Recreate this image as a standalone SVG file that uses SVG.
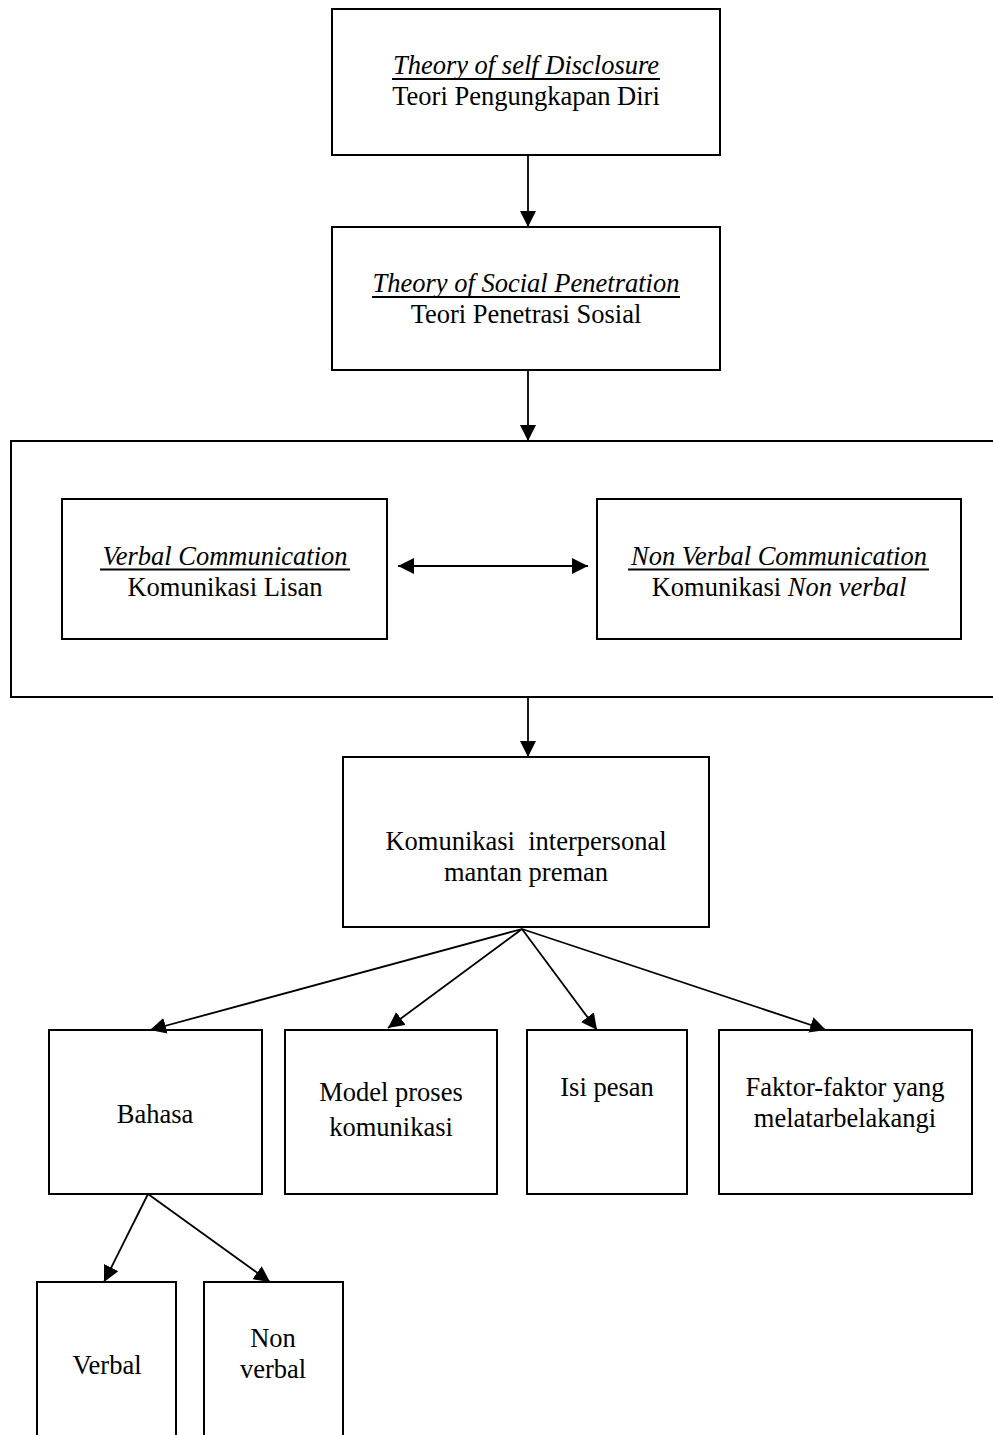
<svg xmlns="http://www.w3.org/2000/svg" width="993" height="1435" viewBox="0 0 993 1435">
<style>
.box{fill:none;stroke:#000;stroke-width:2}
.t{font-family:"Liberation Serif","Times New Roman",serif;font-size:26.5px;fill:#000;text-anchor:middle}
.i{font-style:italic}
.ul{stroke:#000;stroke-width:2}
.c{fill:none;stroke:#000;stroke-width:1.8}
</style>
<defs>
<marker id="ah" markerUnits="userSpaceOnUse" markerWidth="16" markerHeight="16" viewBox="0 0 16 16" refX="16" refY="8" orient="auto-start-reverse">
<path d="M0,0 L16,8 L0,16 Z" fill="#000"/>
</marker>
</defs>
<rect width="993" height="1435" fill="#fff"/>
<g id="connectors">
<line class="c" x1="528" y1="155" x2="528" y2="227" marker-end="url(#ah)"/>
<line class="c" x1="528" y1="370" x2="528" y2="441" marker-end="url(#ah)"/>
<line class="c" x1="398" y1="566" x2="588" y2="566" marker-start="url(#ah)" marker-end="url(#ah)"/>
<line class="c" x1="528" y1="697" x2="528" y2="757" marker-end="url(#ah)"/>
<line class="c" x1="522" y1="929" x2="150" y2="1030" marker-end="url(#ah)"/>
<line class="c" x1="522" y1="929" x2="388" y2="1028" marker-end="url(#ah)"/>
<line class="c" x1="522" y1="929" x2="597" y2="1030" marker-end="url(#ah)"/>
<line class="c" x1="522" y1="929" x2="826" y2="1030" marker-end="url(#ah)"/>
<line class="c" x1="148" y1="1194" x2="104" y2="1282" marker-end="url(#ah)"/>
<line class="c" x1="148" y1="1194" x2="270" y2="1282" marker-end="url(#ah)"/>
</g>
<g id="n1">
<rect class="box" x="332" y="9" width="388" height="146"/>
<text class="t i" x="526" y="74">Theory of self Disclosure</text>
<line class="ul" x1="392" y1="79" x2="660" y2="79"/>
<text class="t" x="526" y="105">Teori Pengungkapan Diri</text>
</g>
<g id="n2">
<rect class="box" x="332" y="227" width="388" height="143"/>
<text class="t i" x="526" y="292">Theory of Social Penetration</text>
<line class="ul" x1="372" y1="297" x2="680" y2="297"/>
<text class="t" x="526" y="323">Teori Penetrasi Sosial</text>
</g>
<g id="n3">
<rect class="box" x="11" y="441" width="995" height="256"/>
</g>
<g id="n3a">
<rect class="box" x="62" y="499" width="325" height="140"/>
<text class="t i" x="225" y="565">Verbal Communication</text>
<line class="ul" x1="100" y1="569.5" x2="350" y2="569.5"/>
<text class="t" x="225" y="596">Komunikasi Lisan</text>
</g>
<g id="n3b">
<rect class="box" x="597" y="499" width="364" height="140"/>
<text class="t i" x="779" y="565">Non Verbal Communication</text>
<line class="ul" x1="628" y1="569.5" x2="929" y2="569.5"/>
<text class="t" x="779" y="596">Komunikasi <tspan class="i">Non verbal</tspan></text>
</g>
<g id="n4">
<rect class="box" x="343" y="757" width="366" height="170"/>
<text class="t" x="526" y="850" xml:space="preserve">Komunikasi  interpersonal</text>
<text class="t" x="526" y="881">mantan preman</text>
</g>
<g id="n5">
<rect class="box" x="49" y="1030" width="213" height="164"/>
<text class="t" x="155" y="1123">Bahasa</text>
</g>
<g id="n6">
<rect class="box" x="285" y="1030" width="212" height="164"/>
<text class="t" x="391" y="1101">Model proses</text>
<text class="t" x="391" y="1136">komunikasi</text>
</g>
<g id="n7">
<rect class="box" x="527" y="1030" width="160" height="164"/>
<text class="t" x="607" y="1096">Isi pesan</text>
</g>
<g id="n8">
<rect class="box" x="719" y="1030" width="253" height="164"/>
<text class="t" x="845" y="1096">Faktor-faktor yang</text>
<text class="t" x="845" y="1127">melatarbelakangi</text>
</g>
<g id="n9">
<rect class="box" x="37" y="1282" width="139" height="170"/>
<text class="t" x="107" y="1374">Verbal</text>
</g>
<g id="n10">
<rect class="box" x="204" y="1282" width="139" height="170"/>
<text class="t" x="273" y="1347">Non</text>
<text class="t" x="273" y="1378">verbal</text>
</g>
</svg>
